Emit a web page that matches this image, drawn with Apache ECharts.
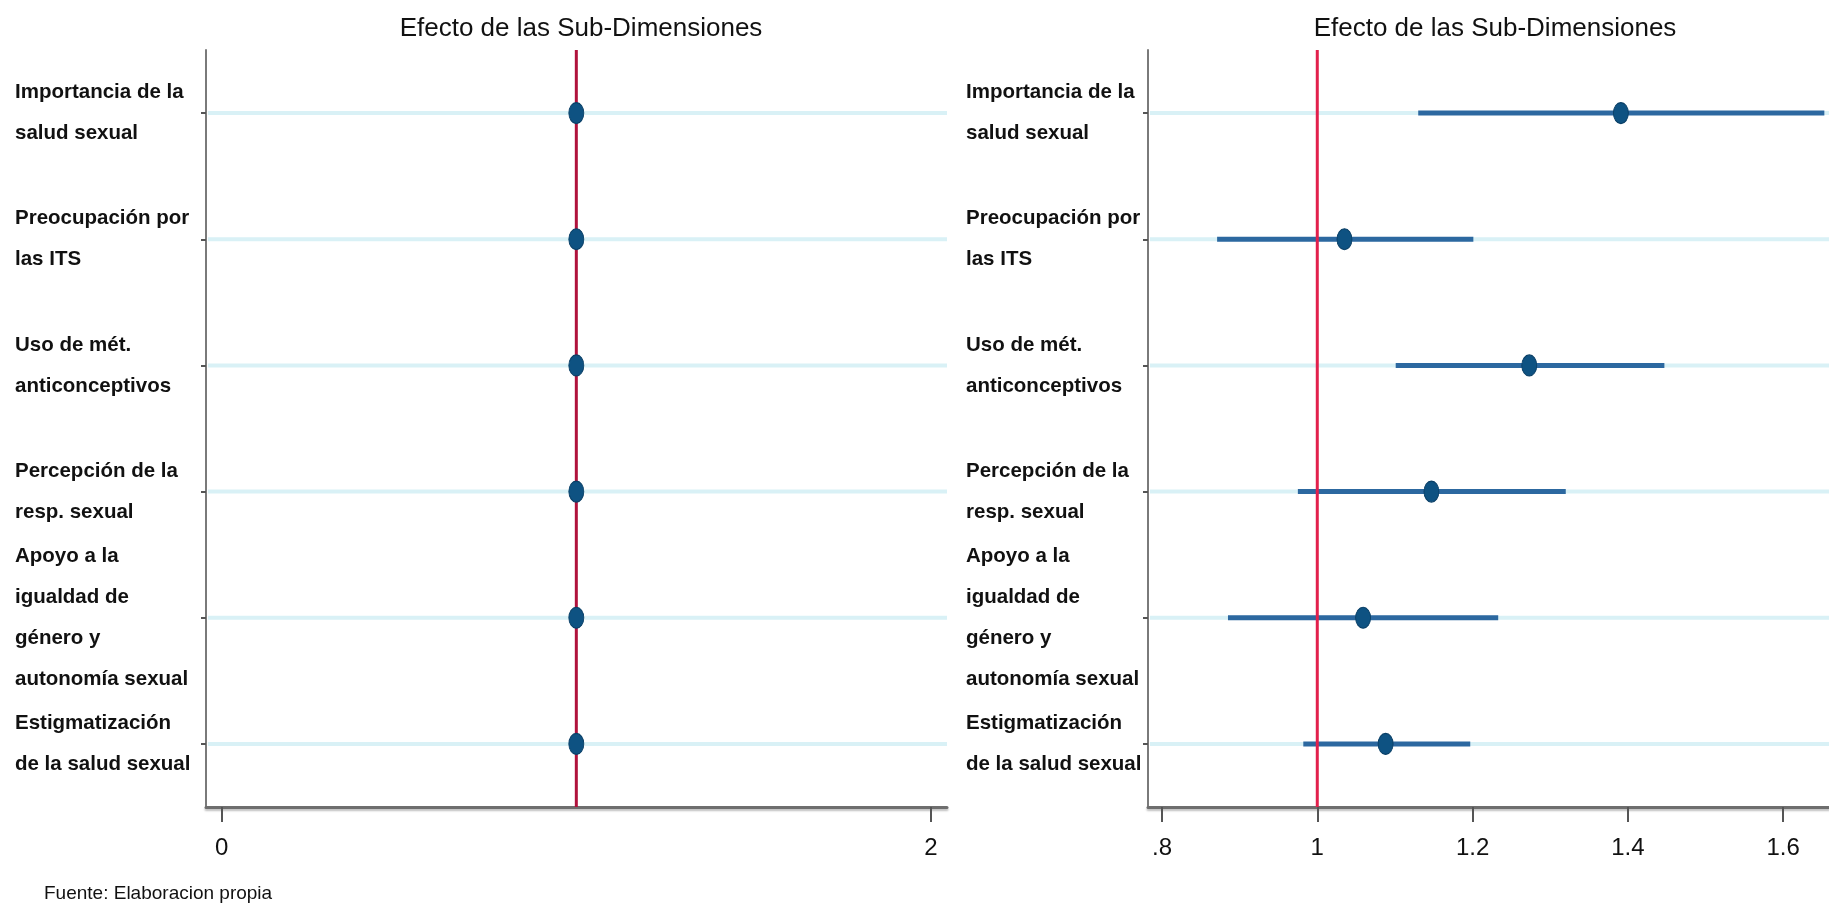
<!DOCTYPE html>
<html lang="es">
<head>
    <meta charset="UTF-8">
    <title>Efecto de las Sub-Dimensiones</title>
    <script src="https://cdn.jsdelivr.net/npm/echarts@6/dist/echarts.min.js"></script>
    <style>
        html, body {
            margin: 0;
            padding: 0;
            background: #fff;
        }

        #main {
            width: 1829px;
            height: 909px;
        }
    </style>
</head>
<body>
<div id="main"></div>
<script>
    // categorias (mismas en ambos paneles)
    var categories = [
        'Importancia de la\nsalud sexual',
        'Preocupación por\nlas ITS',
        'Uso de mét.\nanticonceptivos',
        'Percepción de la\nresp. sexual',
        'Apoyo a la\nigualdad de\ngénero y\nautonomía sexual',
        'Estigmatización\nde la salud sexual'
    ];

    // panel izquierdo: solo el punto
    var leftEst = [1, 1, 1, 1, 1, 1];
    var leftTicks = [0, 2];

    // panel derecho: estimacion e intervalo
    var rightEst = [1.391, 1.035, 1.273, 1.147, 1.059, 1.088];
    var rightLower = [1.130, 0.871, 1.101, 0.975, 0.885, 0.982];
    var rightUpper = [1.653, 1.201, 1.447, 1.320, 1.233, 1.197];
    var rightTicks = [0.8, 1, 1.2, 1.4, 1.6];

    var refValue = 1;

    var FONT = '"Liberation Sans", Arial, sans-serif';
    var ellipse = 'path://M0,-1A1,1 0 1,1 0,1A1,1 0 1,1 0,-1Z';

    function tickFmt(v) {
        return String(Math.round(v * 10) / 10).replace(/^0\./, '.');
    }

    function xAxisFor(idx, min, max, ticks) {
        return {
            gridIndex: idx,
            type: 'value',
            min: min,
            max: max,
            splitLine: {show: false},
            axisLine: {
                show: true,
                onZero: false,
                lineStyle: {color: '#6e6e6e', width: 3, shadowColor: 'rgba(0,0,0,0.25)', shadowBlur: 2, shadowOffsetY: 2}
            },
            axisTick: {show: true, customValues: ticks, length: 15, lineStyle: {color: '#555', width: 2}},
            axisLabel: {
                customValues: ticks,
                formatter: tickFmt,
                margin: 29,
                fontSize: 24,
                fontFamily: FONT,
                color: '#111'
            }
        };
    }

    function yAxisFor(idx, margin) {
        return {
            gridIndex: idx,
            type: 'category',
            data: categories,
            inverse: true,
            axisLine: {show: true, onZero: false, lineStyle: {color: '#7a7a7a', width: 2}},
            axisTick: {show: true, alignWithLabel: true, interval: 0, length: 5, lineStyle: {color: '#555', width: 2}},
            splitLine: {show: false},
            axisLabel: {
                interval: 0,
                align: 'left',
                margin: margin,
                fontSize: 20.5,
                fontWeight: 'bold',
                lineHeight: 41,
                fontFamily: FONT,
                color: '#111'
            }
        };
    }

    function panelSeries(idx, est, lower, upper, refColor) {
        var list = [];
        // lineas celestes de cada fila
        list.push({
            type: 'custom',
            xAxisIndex: idx,
            yAxisIndex: idx,
            z: 1,
            encode: {x: 0, y: 1},
            data: categories.map(function (c, k) { return [refValue, k]; }),
            renderItem: function (params, api) {
                var cs = params.coordSys;
                var y = api.coord([api.value(0), api.value(1)])[1];
                return {
                    type: 'line',
                    shape: {x1: cs.x + 2, y1: y, x2: cs.x + cs.width, y2: y},
                    style: {stroke: '#d9f1f6', lineWidth: 4}
                };
            }
        });
        // intervalos
        if (lower && upper) {
            list.push({
                type: 'custom',
                xAxisIndex: idx,
                yAxisIndex: idx,
                z: 2,
                encode: {x: [0, 1], y: 2},
                data: categories.map(function (c, k) { return [lower[k], upper[k], k]; }),
                renderItem: function (params, api) {
                    var a = api.coord([api.value(0), api.value(2)]);
                    var b = api.coord([api.value(1), api.value(2)]);
                    return {
                        type: 'line',
                        shape: {x1: a[0], y1: a[1], x2: b[0], y2: b[1]},
                        style: {stroke: '#2c68a0', lineWidth: 5}
                    };
                }
            });
        }
        // linea de referencia
        list.push({
            type: 'custom',
            xAxisIndex: idx,
            yAxisIndex: idx,
            z: 3,
            encode: {x: 0, y: 1},
            data: [[refValue, 0]],
            renderItem: function (params, api) {
                var cs = params.coordSys;
                var x = api.coord([api.value(0), api.value(1)])[0];
                return {
                    type: 'line',
                    shape: {x1: x, y1: cs.y, x2: x, y2: cs.y + cs.height},
                    style: {stroke: refColor, lineWidth: 3}
                };
            }
        });
        // puntos
        list.push({
            type: 'scatter',
            xAxisIndex: idx,
            yAxisIndex: idx,
            z: 4,
            symbol: ellipse,
            symbolSize: [15, 21],
            itemStyle: {color: '#0e5282', borderColor: '#0a3f66', borderWidth: 1, opacity: 1},
            data: est.map(function (v, k) { return [v, k]; })
        });
        return list;
    }

    var myChart = echarts.init(document.getElementById('main'));
    var option = {
        backgroundColor: '#fff',
        animation: false,
        title: [
            {
                text: 'Efecto de las Sub-Dimensiones',
                left: 576, top: 11, textAlign: 'center',
                textStyle: {fontSize: 26, fontWeight: 'normal', fontFamily: FONT, color: '#111'}
            },
            {
                text: 'Efecto de las Sub-Dimensiones',
                left: 1490, top: 11, textAlign: 'center',
                textStyle: {fontSize: 26, fontWeight: 'normal', fontFamily: FONT, color: '#111'}
            }
        ],
        grid: [
            {left: 206, top: 50, width: 741, height: 757},
            {left: 1148, top: 50, width: 681, height: 757}
        ],
        xAxis: [
            xAxisFor(0, -0.044, 2.045, leftTicks),
            xAxisFor(1, 0.782, 1.659, rightTicks)
        ],
        yAxis: [
            yAxisFor(0, 191),
            yAxisFor(1, 182)
        ],
        series: [].concat(
            panelSeries(0, leftEst, null, null, '#b0123c'),
            panelSeries(1, rightEst, rightLower, rightUpper, '#e2204c')
        ),
        graphic: [{
            type: 'text',
            left: 44,
            top: 884,
            style: {text: 'Fuente: Elaboracion propia', fontSize: 19, fontFamily: FONT, fill: '#111'}
        }]
    };
    myChart.setOption(option);
</script>
</body>
</html>
